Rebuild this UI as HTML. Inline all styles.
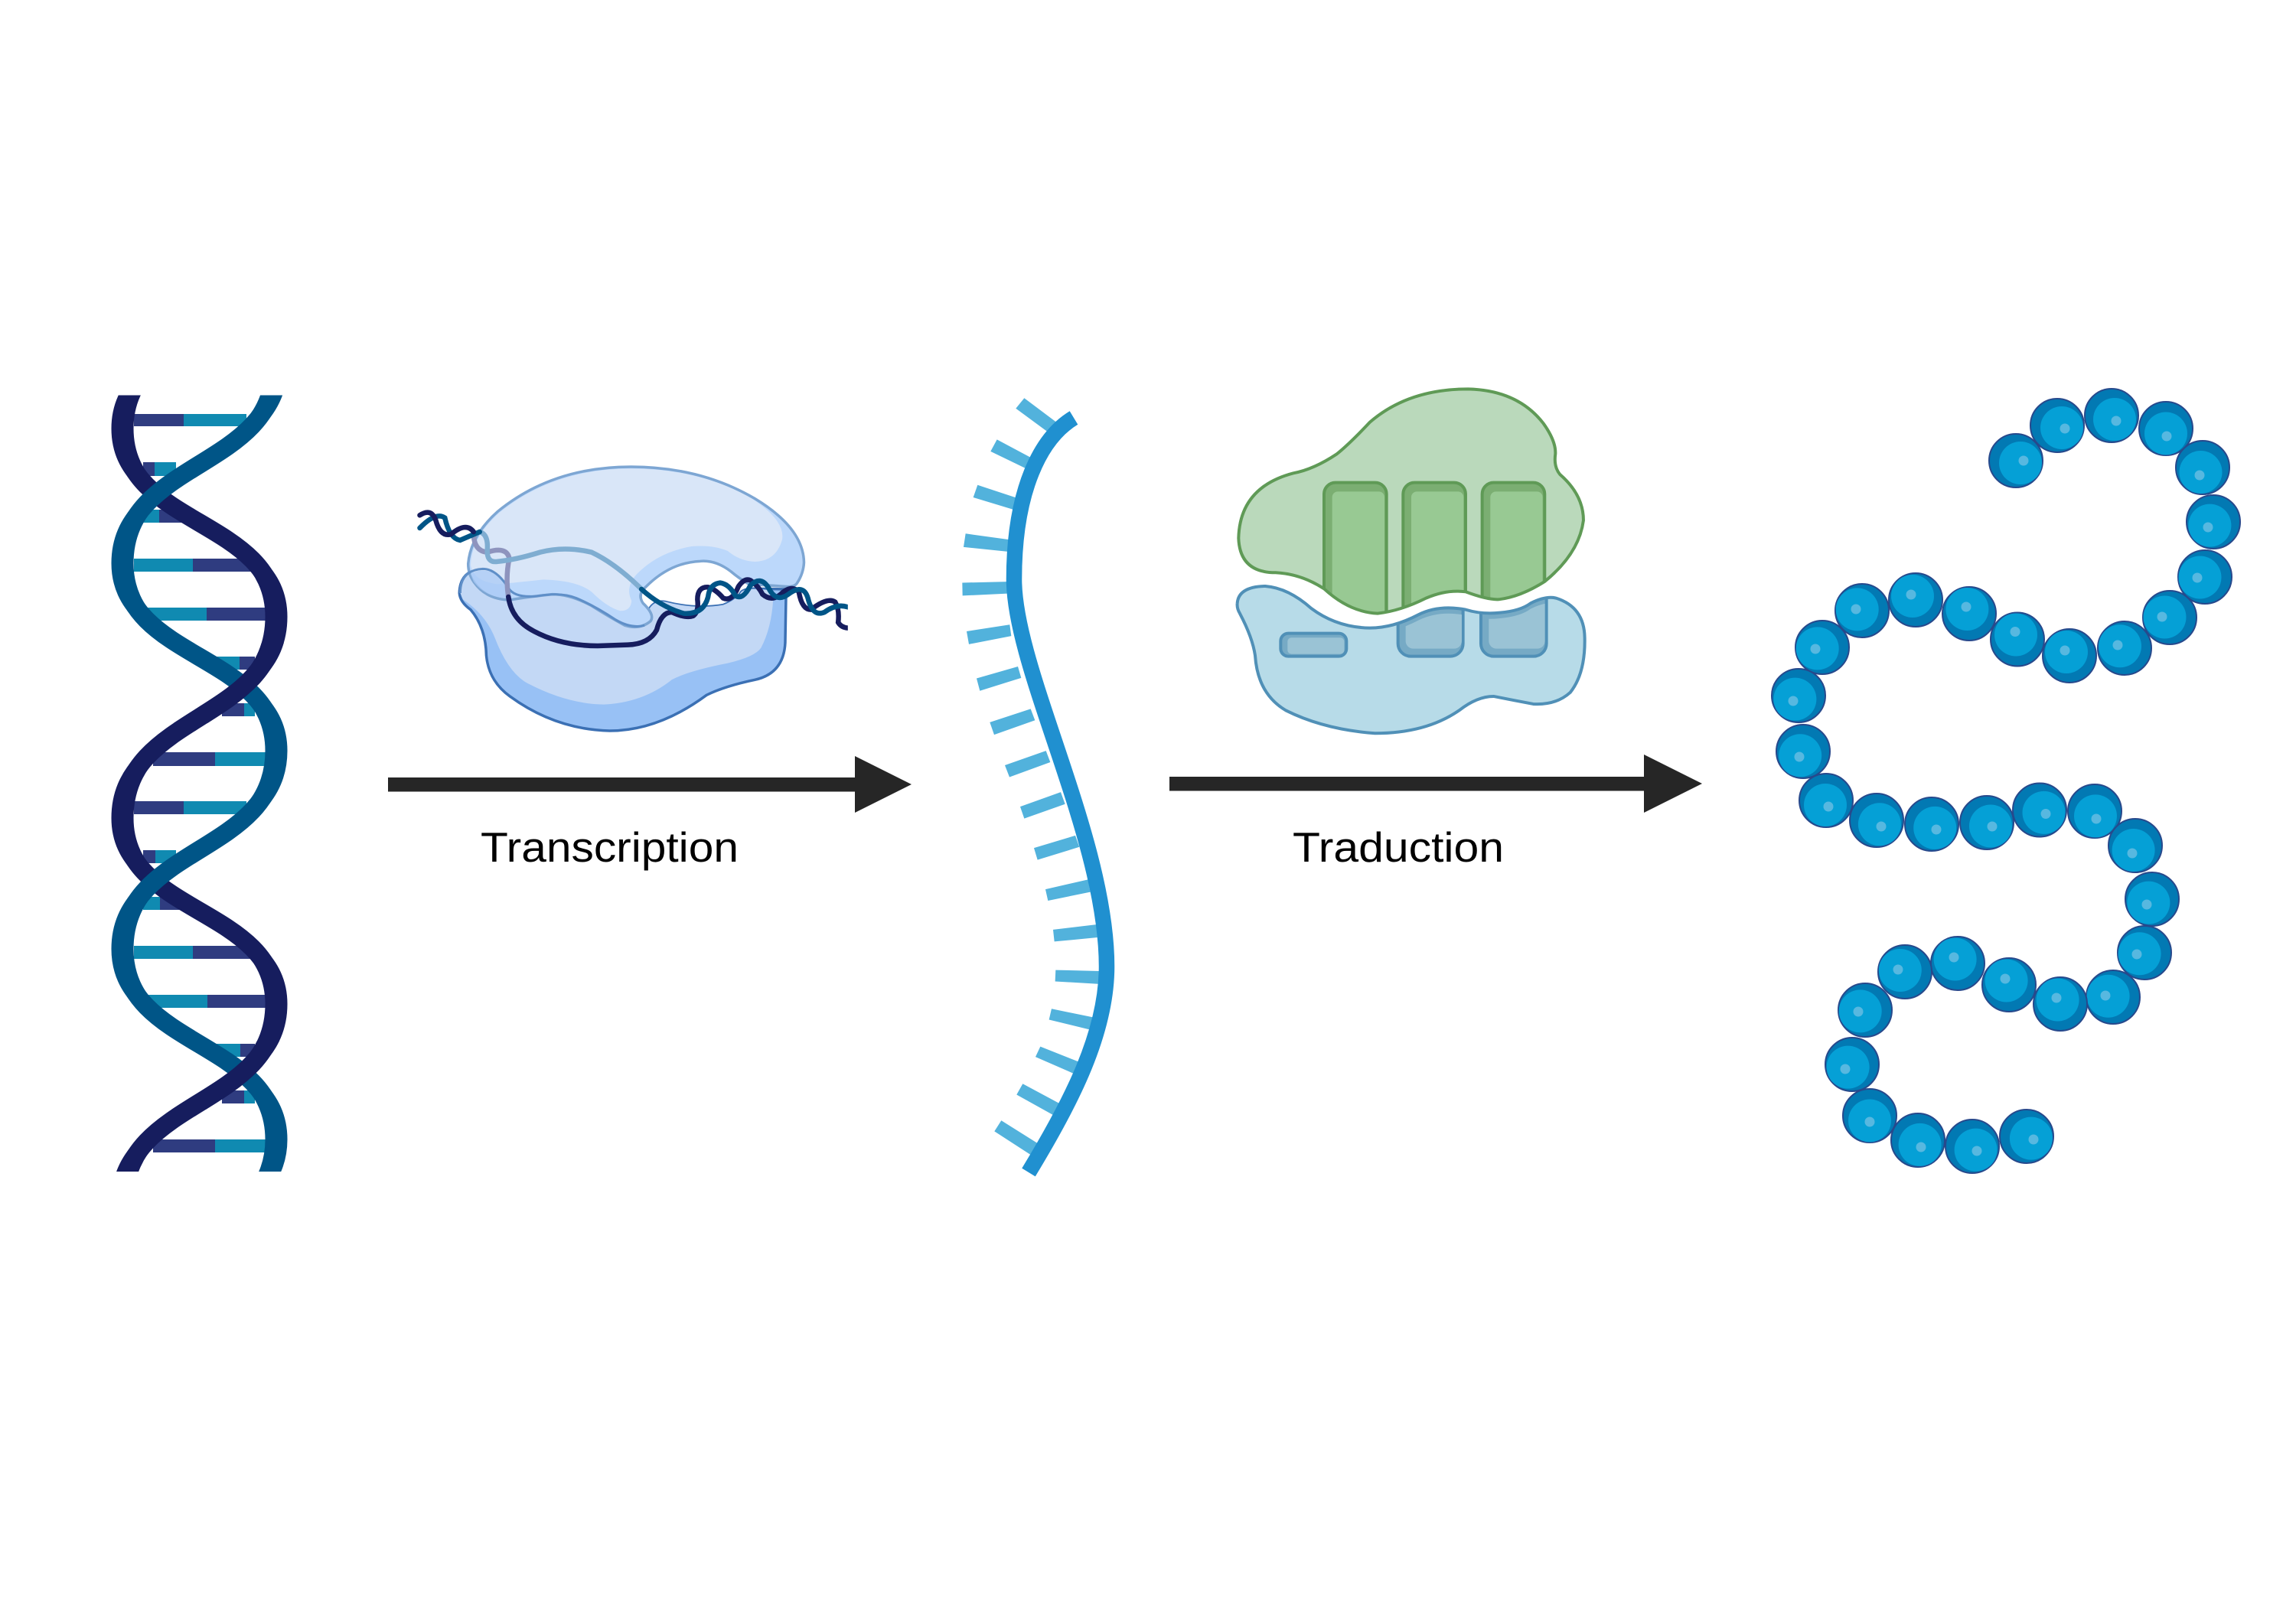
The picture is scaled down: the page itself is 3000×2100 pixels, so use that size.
<!DOCTYPE html>
<html>
<head>
<meta charset="utf-8">
<title>Transcription et traduction</title>
<style>
html,body{margin:0;padding:0;background:#fff;width:3000px;height:2100px;overflow:hidden}
svg{display:block}
.n{fill:#2f3c80}.t{fill:#108ab1}
.vs{vector-effect:non-scaling-stroke}
.b{fill:#0279b3;stroke:#27498c;stroke-width:2}
.i{fill:#05a0d6}
.s{fill:#57b8e0}
text{font-family:"Liberation Sans",sans-serif;font-size:55px;fill:#000}
</style>
</head>
<body>
<svg xmlns="http://www.w3.org/2000/svg" width="3000" height="2100" viewBox="0 0 3000 2100">
<defs>
<clipPath id="hc"><rect x="100" y="516.5" width="340" height="1014.5"/></clipPath>
<clipPath id="hd"><rect x="100" y="840" width="340" height="105"/><rect x="100" y="1360" width="340" height="90"/></clipPath>
<g id="dk">
<path d="M347,314 C347,442 146,432 146,560 C146,688 347,678 347,806 C347,943 146,932 146,1069 C146,1195 347,1186 347,1312 C347,1446 146,1436 146,1570 L174,1570 C174,1436 375,1446 375,1312 C375,1186 174,1195 174,1069 C174,932 375,943 375,806 C375,678 174,688 174,560 C174,432 375,442 375,314 Z"/>
<path fill="none" stroke-width="24" d="M361,314 C361,442 160,432 160,560 C160,688 361,678 361,806 C361,943 160,932 160,1069 C160,1195 361,1186 361,1312 C361,1446 160,1436 160,1570"/>
</g>
<g id="tl">
<path d="M347,478 C347,612 146,602 146,736 C146,863 347,854 347,981 C347,1116 146,1105 146,1240 C146,1369 347,1360 347,1489 C347,1619 146,1610 146,1740 L174,1740 C174,1610 375,1619 375,1489 C375,1360 174,1369 174,1240 C174,1105 375,1116 375,981 C375,854 174,863 174,736 C174,602 375,612 375,478 Z"/>
<path fill="none" stroke-width="24" d="M361,478 C361,612 160,602 160,736 C160,863 361,854 361,981 C361,1116 160,1105 160,1240 C160,1369 361,1360 361,1489 C361,1619 160,1610 160,1740"/>
</g>
<clipPath id="pc"><rect x="0" y="0" width="1487" height="1300"/></clipPath>
<path id="gb" d="M85,670 Q90,470 300,415 Q380,400 470,340 Q520,300 600,215 Q750,85 985,85 Q1180,90 1280,220 Q1330,290 1327,340 Q1320,390 1345,420 Q1437,500 1437,600 Q1420,730 1285,840 Q1190,900 1105,910 Q1060,912 975,880 Q900,870 820,905 Q720,955 630,965 Q520,960 420,868 Q330,810 230,805 Q90,805 85,670 Z"/>
<path id="bb" d="M80,925 Q85,860 190,858 Q280,865 370,945 Q470,1020 600,1022 Q690,1022 790,970 Q870,930 975,950 Q1040,970 1110,962 Q1190,955 1230,925 Q1290,895 1330,905 Q1440,940 1442,1060 Q1445,1200 1385,1275 Q1330,1325 1240,1320 Q1160,1305 1085,1290 Q1020,1290 950,1345 Q820,1435 620,1435 Q420,1420 270,1345 Q160,1280 150,1130 Q140,1060 90,965 Q78,945 80,925 Z"/>
<clipPath id="gc"><use href="#gb"/></clipPath>
<clipPath id="bc"><use href="#bb"/></clipPath>
<clipPath id="bc2"><path transform="translate(0,22)" d="M80,925 Q85,860 190,858 Q280,865 370,945 Q470,1020 600,1022 Q690,1022 790,970 Q870,930 975,950 Q1040,970 1110,962 Q1190,955 1230,925 Q1290,895 1330,905 L1500,905 L1500,1500 L80,1500 Z"/></clipPath>
</defs>

<rect width="3000" height="2100" fill="#fff"/>

<!-- DNA helix rungs -->
<g>
<rect class="n" x="175" y="541" width="65" height="16"/><rect class="t" x="240" y="541" width="82" height="16"/>
<rect class="n" x="187" y="604" width="15" height="18"/><rect class="t" x="202" y="604" width="28" height="18"/>
<rect class="t" x="187" y="666" width="21" height="17"/><rect class="n" x="208" y="666" width="32" height="17"/>
<rect class="t" x="175" y="730" width="77" height="17"/><rect class="n" x="252" y="730" width="78" height="17"/>
<rect class="t" x="192" y="794" width="78" height="17"/><rect class="n" x="270" y="794" width="77" height="17"/>
<rect class="t" x="282" y="858" width="31" height="17"/><rect class="n" x="313" y="858" width="20" height="17"/>
<rect class="n" x="290" y="919" width="29" height="17"/><rect class="t" x="319" y="919" width="14" height="17"/>
<rect class="n" x="200" y="983" width="81" height="18"/><rect class="t" x="281" y="983" width="66" height="18"/>
<rect class="n" x="175" y="1047" width="65" height="17"/><rect class="t" x="240" y="1047" width="82" height="17"/>
<rect class="n" x="187" y="1111" width="16" height="17"/><rect class="t" x="203" y="1111" width="27" height="17"/>
<rect class="t" x="187" y="1172" width="22" height="17"/><rect class="n" x="209" y="1172" width="31" height="17"/>
<rect class="t" x="175" y="1236" width="77" height="17"/><rect class="n" x="252" y="1236" width="78" height="17"/>
<rect class="t" x="192" y="1300" width="79" height="17"/><rect class="n" x="271" y="1300" width="76" height="17"/>
<rect class="t" x="283" y="1364" width="31" height="17"/><rect class="n" x="314" y="1364" width="19" height="17"/>
<rect class="n" x="290" y="1425" width="29" height="17"/><rect class="t" x="319" y="1425" width="14" height="17"/>
<rect class="n" x="200" y="1489" width="81" height="17"/><rect class="t" x="281" y="1489" width="66" height="17"/>
</g>
<!-- DNA strands -->
<g clip-path="url(#hc)">
<use href="#dk" fill="#161d5e" stroke="#161d5e"/>
<use href="#tl" fill="#005587" stroke="#005587"/>
<g clip-path="url(#hd)"><use href="#dk" fill="#161d5e" stroke="#161d5e"/></g>
</g>

<!-- Polymerase -->
<g transform="translate(520,580) scale(0.3953,0.3333)" fill="none">
<path class="vs" fill="#98c1f5" stroke="#3b70b4" stroke-width="3.5" d="M203,585 Q205,495 280,490 Q325,490 365,565 Q385,605 460,597 Q540,580 590,605 Q650,635 720,690 Q770,725 815,712 Q850,690 832,645 Q850,612 885,620 Q985,650 1075,632 Q1120,610 1135,580 Q1150,565 1200,568 L1283,570 L1280,780 Q1275,900 1180,925 Q1080,950 1020,985 Q860,1125 700,1125 Q520,1120 370,990 Q300,930 292,830 Q290,720 240,650 Q205,620 203,585 Z"/>
<path fill="#c3d8f5" d="M215,610 Q290,670 320,760 Q365,900 430,940 Q560,1020 680,1022 Q810,1015 905,925 Q960,890 1090,860 Q1180,835 1200,800 Q1235,720 1240,610 L1240,575 L1200,570 Q1150,565 1135,580 Q1120,610 1075,632 Q985,650 885,620 Q850,612 832,645 Q850,690 815,712 Q770,725 720,690 Q650,635 590,605 Q540,580 460,597 Q385,605 365,565 Q325,490 280,490 Q205,495 206,585 Z"/>
<path class="vs" fill="#bcd8fb" stroke="#7da6d3" stroke-width="3.5" d="M232,470 Q240,360 330,265 Q510,90 770,90 Q1000,90 1180,215 Q1340,330 1342,465 Q1340,510 1318,548 Q1310,560 1290,560 L1160,550 Q1130,530 1100,500 Q1050,455 1000,460 Q900,465 820,560 Q790,590 810,625 Q850,670 835,695 Q800,730 750,712 Q700,680 640,635 Q570,590 510,590 Q430,600 370,612 Q290,610 250,540 Q232,510 232,470 Z"/>
<path fill="#d9e6f8" d="M240,475 Q245,365 335,270 Q515,97 770,97 Q1000,97 1170,215 Q1280,300 1270,375 Q1250,460 1180,462 Q1130,460 1090,420 Q1040,395 970,402 Q860,425 790,510 Q750,560 772,615 Q770,655 735,655 Q690,640 640,580 Q590,535 480,532 Q380,545 330,550 Q250,540 240,475 Z"/>
<path class="vs" fill="#a9caf6" fill-opacity=".75" stroke="none" d="M240,510 Q280,480 330,515 Q345,535 365,565 Q370,585 370,606 Q290,605 250,540 Z"/>
<path class="vs" stroke="#5f8fc8" stroke-width="3" d="M206,585 Q205,495 280,490 Q325,490 365,565 Q385,605 460,597 Q540,580 590,605 Q650,635 720,690 Q770,725 815,712"/>
<g clip-path="url(#pc)" stroke-linecap="round">
<path class="vs" stroke="#8e94be" stroke-width="6.5" d="M250,350 Q250,420 295,425 Q360,400 368,450 Q355,520 365,600"/>
<path class="vs" stroke="#7fadd1" stroke-width="6.5" d="M270,345 Q300,355 295,420 Q295,465 325,462 Q390,455 470,425 Q550,400 640,425 Q720,470 805,570"/>
<path class="vs" stroke="#005587" stroke-width="6.5" d="M72,330 Q125,265 155,290 Q170,370 205,378 Q240,360 270,345"/>
<path class="vs" stroke="#161d5e" stroke-width="6.5" d="M72,280 Q110,250 125,300 Q140,365 175,355 Q225,305 250,345"/>
<path class="vs" stroke="#161d5e" stroke-width="6.5" d="M365,600 Q375,690 450,735 Q540,792 660,792 L760,788 Q830,785 855,730 Q870,660 905,660 Q950,685 975,675 Q995,660 990,610 Q990,560 1025,562 Q1050,570 1075,605 Q1105,620 1125,560 Q1145,525 1165,535 Q1190,555 1205,590 Q1235,620 1265,590 Q1300,550 1325,580 Q1335,650 1365,650 Q1420,600 1445,620 Q1460,650 1455,700 Q1465,720 1487,722"/>
<path class="vs" stroke="#005587" stroke-width="6.5" d="M805,570 Q870,640 945,665 Q1010,670 1025,600 Q1030,550 1065,545 Q1095,550 1115,595 Q1140,615 1165,555 Q1200,515 1225,565 Q1250,625 1290,590 Q1340,545 1355,605 Q1370,680 1410,660 Q1450,625 1487,640"/>
</g>
</g>

<!-- Arrow 1 -->
<rect x="507" y="1016" width="611" height="18.500" fill="#262626"/>
<polygon points="1117,988 1191,1025 1117,1062" fill="#262626"/>
<text x="628" y="1126" textLength="337" lengthAdjust="spacingAndGlyphs">Transcription</text>

<!-- Arrow 2 -->
<rect x="1528" y="1015" width="621" height="18.500" fill="#262626"/>
<polygon points="2148,986 2224,1024 2148,1062" fill="#262626"/>
<text x="1689" y="1126" textLength="276" lengthAdjust="spacingAndGlyphs">Traduction</text>

<!-- mRNA -->
<g transform="translate(1240,500) scale(0.3333,0.6757)" fill="#52b2dc">
<polygon points="262,50 295,30 430,80 400,100"/>
<polygon points="163,133 188,110 340,150 318,170"/>
<polygon points="95,222 112,198 272,224 262,247"/>
<polygon points="57,318 65,292 240,304 235,327"/>
<polygon points="53,412 52,387 230,385 230,408"/>
<polygon points="78,506 69,481 238,468 244,490"/>
<polygon points="121,596 108,572 270,549 283,571"/>
<polygon points="177,681 160,657 320,631 337,653"/>
<polygon points="237,763 219,740 380,712 397,734"/>
<polygon points="295,843 279,820 438,792 455,815"/>
<polygon points="347,923 333,900 495,876 511,898"/>
<polygon points="388,1002 378,980 545,961 554,985"/>
<polygon points="413,1081 408,1058 578,1048 582,1073"/>
<polygon points="416,1158 418,1136 590,1138 590,1163"/>
<polygon points="392,1232 402,1211 570,1228 558,1252"/>
<polygon points="339,1304 358,1284 516,1315 497,1338"/>
<polygon points="265,1377 289,1356 440,1396 414,1418"/>
<polygon points="178,1448 205,1427 350,1472 322,1494"/>
</g>
<path fill="none" stroke="#2090d0" stroke-width="20.500" d="M1403,546 C1360,572 1325,640 1325,757 C1325,875 1446,1095 1446,1263 C1446,1350 1400,1440 1344,1532"/>

<!-- Ribosome -->
<g transform="translate(1590,480) scale(0.3333)">
<use href="#gb" fill="#bad9bb"/>
<g clip-path="url(#gc)" stroke="#5f9a56" stroke-width="12">
<rect x="420" y="452" width="245" height="600" rx="45" fill="#7bae72"/>
<rect x="452" y="487" width="205" height="600" rx="22" fill="#98c993" stroke="none"/>
<rect x="730" y="452" width="245" height="600" rx="45" fill="#7bae72"/>
<rect x="762" y="487" width="205" height="600" rx="22" fill="#98c993" stroke="none"/>
<rect x="1040" y="452" width="245" height="600" rx="45" fill="#7bae72"/>
<rect x="1072" y="487" width="205" height="600" rx="22" fill="#98c993" stroke="none"/>
</g>
<use href="#gb" fill="none" stroke="#5f9a56" stroke-width="12"/>

<use href="#bb" fill="#b7dbe8"/>
<rect x="250" y="1043" width="258" height="90" rx="30" fill="#76aac5" stroke="#5090b7" stroke-width="12"/>
<rect x="277" y="1060" width="222" height="64" rx="15" fill="#9ac3d5"/>
<g clip-path="url(#bc)">
<rect x="710" y="800" width="255" height="333" rx="50" fill="#76aac5" stroke="#5090b7" stroke-width="12"/>
<rect x="1035" y="800" width="257" height="333" rx="50" fill="#76aac5" stroke="#5090b7" stroke-width="12"/>
<g clip-path="url(#bc2)" fill="#9ac3d5">
<rect x="740" y="800" width="220" height="303" rx="30"/>
<rect x="1066" y="800" width="220" height="303" rx="30"/>
</g>
</g>
<use href="#bb" fill="none" stroke="#5090b7" stroke-width="12"/>
</g>

<!-- Protein chain -->
<g>
<g transform="translate(2634,602)"><circle class="b" r="35"/><circle class="i" cx="6" cy="3" r="28"/><circle class="s" cx="10" cy="0" r="6.500"/></g>
<g transform="translate(2688,556)"><circle class="b" r="35"/><circle class="i" cx="6" cy="3" r="28"/><circle class="s" cx="10" cy="4" r="6.500"/></g>
<g transform="translate(2759,543)"><circle class="b" r="35"/><circle class="i" cx="4" cy="5" r="28"/><circle class="s" cx="6" cy="7" r="6.500"/></g>
<g transform="translate(2830,560)"><circle class="b" r="35"/><circle class="i" cx="0" cy="6.500" r="28"/><circle class="s" cx="1" cy="10" r="6.500"/></g>
<g transform="translate(2878,611)"><circle class="b" r="35"/><circle class="i" cx="-2.500" cy="6" r="28"/><circle class="s" cx="-4" cy="10" r="6.500"/></g>
<g transform="translate(2892,682)"><circle class="b" r="35"/><circle class="i" cx="-4.600" cy="4.600" r="28"/><circle class="s" cx="-7" cy="7" r="6.500"/></g>
<g transform="translate(2881,754)"><circle class="b" r="35"/><circle class="i" cx="-6.500" cy="0.500" r="28"/><circle class="s" cx="-10" cy="1" r="6.500"/></g>
<g transform="translate(2835,807)"><circle class="b" r="35"/><circle class="i" cx="-6.500" cy="-0.500" r="28"/><circle class="s" cx="-10" cy="-1" r="6.500"/></g>
<g transform="translate(2776,847)"><circle class="b" r="35"/><circle class="i" cx="-6" cy="-2.700" r="28"/><circle class="s" cx="-9" cy="-4" r="6.500"/></g>
<g transform="translate(2704,857)"><circle class="b" r="35"/><circle class="i" cx="-4" cy="-5" r="28"/><circle class="s" cx="-6" cy="-7" r="6.500"/></g>
<g transform="translate(2636,835.500)"><circle class="b" r="35"/><circle class="i" cx="-2" cy="-6" r="28"/><circle class="s" cx="-3" cy="-10" r="6.500"/></g>
<g transform="translate(2573,802)"><circle class="b" r="35"/><circle class="i" cx="-2.600" cy="-6" r="28"/><circle class="s" cx="-4" cy="-9" r="6.500"/></g>
<g transform="translate(2503,784)"><circle class="b" r="35"/><circle class="i" cx="-4" cy="-5" r="28"/><circle class="s" cx="-6" cy="-7" r="6.500"/></g>
<g transform="translate(2433,798)"><circle class="b" r="35"/><circle class="i" cx="-6.300" cy="-1.600" r="28"/><circle class="s" cx="-8" cy="-2" r="6.500"/></g>
<g transform="translate(2381,846)"><circle class="b" r="35"/><circle class="i" cx="-6.300" cy="1.400" r="28"/><circle class="s" cx="-9" cy="2" r="6.500"/></g>
<g transform="translate(2350,909)"><circle class="b" r="35"/><circle class="i" cx="-4.600" cy="4.600" r="28"/><circle class="s" cx="-7" cy="7" r="6.500"/></g>
<g transform="translate(2356,982)"><circle class="b" r="35"/><circle class="i" cx="-3.800" cy="5.300" r="28"/><circle class="s" cx="-5" cy="7" r="6.500"/></g>
<g transform="translate(2386,1046)"><circle class="b" r="35"/><circle class="i" cx="-1" cy="6" r="28"/><circle class="s" cx="3" cy="8" r="6.500"/></g>
<g transform="translate(2452,1072)"><circle class="b" r="35"/><circle class="i" cx="3.900" cy="5.200" r="28"/><circle class="s" cx="6" cy="8" r="6.500"/></g>
<g transform="translate(2524,1077)"><circle class="b" r="35"/><circle class="i" cx="4.200" cy="4.900" r="28"/><circle class="s" cx="6" cy="7" r="6.500"/></g>
<g transform="translate(2596,1075)"><circle class="b" r="35"/><circle class="i" cx="5" cy="4.500" r="28"/><circle class="s" cx="7" cy="5" r="6.500"/></g>
<g transform="translate(2665,1058.500)"><circle class="b" r="35"/><circle class="i" cx="5.500" cy="3.400" r="28"/><circle class="s" cx="8" cy="5" r="6.500"/></g>
<g transform="translate(2737,1060)"><circle class="b" r="35"/><circle class="i" cx="1" cy="6.400" r="28"/><circle class="s" cx="2" cy="10" r="6.500"/></g>
<g transform="translate(2790,1105)"><circle class="b" r="35"/><circle class="i" cx="-2.400" cy="6" r="28"/><circle class="s" cx="-4" cy="10" r="6.500"/></g>
<g transform="translate(2812,1175)"><circle class="b" r="35"/><circle class="i" cx="-4.600" cy="4.600" r="28"/><circle class="s" cx="-7" cy="7" r="6.500"/></g>
<g transform="translate(2802,1245)"><circle class="b" r="35"/><circle class="i" cx="-6.400" cy="1.300" r="28"/><circle class="s" cx="-10" cy="2" r="6.500"/></g>
<g transform="translate(2761,1303)"><circle class="b" r="35"/><circle class="i" cx="-6.400" cy="-1.300" r="28"/><circle class="s" cx="-10" cy="-2" r="6.500"/></g>
<g transform="translate(2692,1312)"><circle class="b" r="35"/><circle class="i" cx="-3.400" cy="-5.500" r="28"/><circle class="s" cx="-5" cy="-8" r="6.500"/></g>
<g transform="translate(2625,1287)"><circle class="b" r="35"/><circle class="i" cx="-3.400" cy="-5.500" r="28"/><circle class="s" cx="-5" cy="-8" r="6.500"/></g>
<g transform="translate(2558,1259)"><circle class="b" r="35"/><circle class="i" cx="-3.400" cy="-5.500" r="28"/><circle class="s" cx="-5" cy="-8" r="6.500"/></g>
<g transform="translate(2489,1270)"><circle class="b" r="35"/><circle class="i" cx="-6.200" cy="-2" r="28"/><circle class="s" cx="-9" cy="-3" r="6.500"/></g>
<g transform="translate(2437,1320)"><circle class="b" r="35"/><circle class="i" cx="-6.300" cy="1.400" r="28"/><circle class="s" cx="-9" cy="2" r="6.500"/></g>
<g transform="translate(2420,1391)"><circle class="b" r="35"/><circle class="i" cx="-5.400" cy="3.600" r="28"/><circle class="s" cx="-9" cy="6" r="6.500"/></g>
<g transform="translate(2443,1458)"><circle class="b" r="35"/><circle class="i" cx="0" cy="6.500" r="28"/><circle class="s" cx="0" cy="8" r="6.500"/></g>
<g transform="translate(2506,1490)"><circle class="b" r="35"/><circle class="i" cx="2.600" cy="5.900" r="28"/><circle class="s" cx="4" cy="9" r="6.500"/></g>
<g transform="translate(2577,1498)"><circle class="b" r="35"/><circle class="i" cx="4.600" cy="4.600" r="28"/><circle class="s" cx="6" cy="6" r="6.500"/></g>
<g transform="translate(2648,1485)"><circle class="b" r="35"/><circle class="i" cx="5.900" cy="2.600" r="28"/><circle class="s" cx="9" cy="4" r="6.500"/></g>
</g>
</svg>
</body>
</html>
